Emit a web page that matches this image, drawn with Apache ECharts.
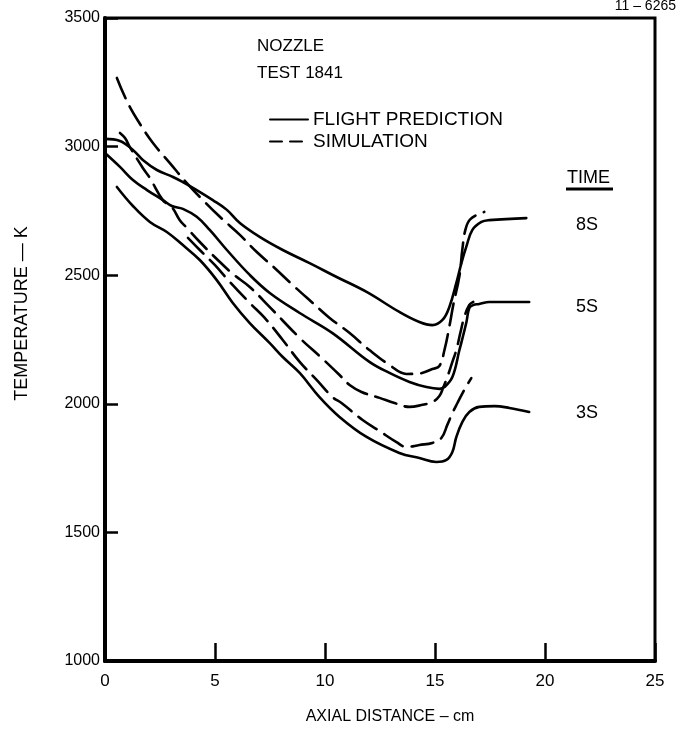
<!DOCTYPE html>
<html><head><meta charset="utf-8">
<script src="https://cdn.jsdelivr.net/npm/echarts/dist/echarts.min.js"></script>
<style>html,body{margin:0;padding:0;background:#fff}#c{width:677px;height:734px}</style>
</head><body><div id="c"></div>
<script>
// Axis distance (cm) vs temperature (K)
const xTicks = [0, 5, 10, 15, 20, 25];
const yTicks = [1000, 1500, 2000, 2500, 3000, 3500];
const timeLabels = ['8S', '5S', '3S'];

const flight8S = [[0,3030],[0.68,3022],[1.27,2987],[1.72,2948],[2.36,2909],[3.09,2882],[3.54,2862],[4.17,2831],[4.90,2792],[5.54,2754],[6.13,2703],[7.03,2649],[8.08,2598],[9.30,2547],[10.53,2493],[11.89,2435],[13.38,2357],[14.29,2318],[14.88,2306],[15.34,2326],[15.65,2376],[15.97,2470],[16.20,2547],[16.42,2610],[16.70,2676],[17.11,2707],[17.47,2714],[19.15,2722]];
const sim8S = [[0.54,3267],[1.04,3169],[1.59,3088],[2.18,3014],[2.95,2936],[3.72,2858],[4.45,2792],[5.22,2727],[6.13,2657],[6.90,2590],[7.71,2528],[8.53,2462],[9.39,2396],[10.21,2334],[11.12,2275],[12.02,2209],[12.93,2151],[13.70,2116],[14.29,2118],[14.88,2135],[15.20,2147],[15.43,2209],[15.65,2299],[15.83,2384],[16.11,2497],[16.24,2598],[16.38,2676],[16.61,2718],[17.24,2746]];
const flight5S = [[0,2975],[0.68,2921],[1.27,2870],[1.91,2831],[2.63,2792],[3.04,2769],[3.54,2758],[4.17,2727],[4.76,2676],[5.54,2598],[6.58,2501],[7.49,2431],[8.85,2353],[10.34,2275],[12.02,2163],[12.93,2120],[13.84,2085],[14.61,2065],[15.20,2058],[15.43,2065],[15.79,2104],[16.11,2209],[16.42,2314],[16.56,2372],[16.74,2384],[17.01,2388],[17.47,2396],[19.28,2396]];
const sim5S = [[0.68,3053],[0.91,3033],[1.13,2998],[1.72,2917],[2.04,2878],[2.63,2792],[3.04,2765],[3.40,2714],[3.72,2684],[4.31,2629],[5.08,2563],[5.81,2505],[6.58,2454],[7.49,2376],[8.85,2256],[9.85,2178],[10.66,2112],[11.12,2073],[11.66,2046],[12.48,2023],[13.16,2003],[13.84,1988],[14.38,1995],[14.88,2007],[15.20,2030],[15.38,2065],[15.56,2104],[15.79,2163],[15.97,2209],[16.15,2275],[16.33,2337],[16.56,2384],[16.74,2396]];
const flight3S = [[0.54,2843],[1.27,2769],[2.04,2707],[2.81,2668],[3.54,2617],[4.31,2559],[5.08,2481],[5.81,2392],[6.58,2314],[7.49,2236],[8.08,2182],[8.85,2120],[9.75,2026],[10.66,1949],[11.89,1871],[13.38,1809],[14.29,1789],[15.06,1774],[15.52,1782],[15.79,1813],[15.97,1871],[16.24,1929],[16.56,1968],[17.01,1988],[17.70,1991],[18.38,1984],[19.28,1968]];
const sim3S = [[3.77,2645],[4.31,2598],[4.99,2540],[5.67,2474],[6.58,2392],[7.26,2334],[8.08,2248],[8.85,2163],[9.62,2093],[10.34,2026],[10.75,2003],[11.71,1937],[12.48,1894],[13.25,1851],[13.70,1832],[14.29,1840],[14.88,1848],[15.29,1867],[15.56,1918],[15.79,1964],[16.02,2003],[16.33,2054],[16.65,2100]];

const FONT = '"Liberation Sans", Arial, sans-serif';
const INK = '#000';
const DASH = [22, 9];

function mk(name, data, dashed) {
  return {
    name: name, type: 'line', data: data, symbol: 'none', showSymbol: false, smooth: 0.4,
    animation: false, silent: true,
    lineStyle: { color: INK, width: 2.6, type: dashed ? DASH : 'solid', cap: 'round', join: 'round' },
    itemStyle: { color: INK }
  };
}

const chart = echarts.init(document.getElementById('c'), null, { renderer: 'canvas' });
chart.setOption({
  backgroundColor: '#fff',
  animation: false,
  title: {
    text: 'NOZZLE\nTEST 1841', left: 252, top: 28,
    textStyle: { fontFamily: FONT, fontSize: 17, fontWeight: 'normal', color: INK, lineHeight: 27 }
  },
  legend: {
    orient: 'vertical', left: 264, top: 105, itemWidth: 38, itemHeight: 12, itemGap: 3,
    itemStyle: { opacity: 0 },
    textStyle: { fontFamily: FONT, fontSize: 19, color: INK },
    data: [
      { name: 'FLIGHT PREDICTION' },
      { name: 'SIMULATION', lineStyle: { type: [12, 8] } }
    ]
  },
  grid: { left: 105, right: 22, top: 18, bottom: 73, show: true, borderColor: INK, borderWidth: 3 },
  xAxis: {
    type: 'value', min: xTicks[0], max: xTicks[xTicks.length - 1], interval: 5,
    axisLine: { show: true, lineStyle: { color: INK, width: 4 } },
    axisTick: { show: true, inside: true, length: 18, lineStyle: { color: INK, width: 2.5 } },
    axisLabel: { color: INK, fontSize: 17, fontFamily: FONT, margin: 12 },
    splitLine: { show: false },
    name: 'AXIAL DISTANCE – cm', nameLocation: 'middle', nameGap: 48,
    nameTextStyle: { fontFamily: FONT, fontSize: 16, color: INK, padding: [0, 0, 0, 20] }
  },
  yAxis: {
    type: 'value', min: yTicks[0], max: yTicks[yTicks.length - 1], interval: 500,
    axisLine: { show: true, lineStyle: { color: INK, width: 4 } },
    axisTick: { show: true, inside: true, length: 13, lineStyle: { color: INK, width: 2.5 } },
    axisLabel: { color: INK, fontSize: 16, fontFamily: FONT, margin: 5, formatter: function (v) { return String(v); } },
    splitLine: { show: false },
    name: 'TEMPERATURE — K', nameLocation: 'middle', nameGap: 74,
    nameTextStyle: { fontFamily: FONT, fontSize: 18, color: INK, padding: [0, 0, 0, 52] }
  },
  series: [
    mk('FLIGHT PREDICTION', flight8S, false),
    mk('SIMULATION', sim8S, true),
    mk('FLIGHT PREDICTION', flight5S, false),
    mk('SIMULATION', sim5S, true),
    mk('FLIGHT PREDICTION', flight3S, false),
    mk('SIMULATION', sim3S, true)
  ],
  graphic: [
    { type: 'text', right: 1, top: -1, style: { text: '11 – 6265', fontFamily: FONT, fontSize: 14, fill: INK } },
    { type: 'text', left: 567, top: 169, style: { text: 'TIME', fontFamily: FONT, fontSize: 18, fill: INK } },
    { type: 'line', shape: { x1: 566, y1: 189, x2: 613, y2: 189 }, style: { stroke: INK, lineWidth: 3 } },
    { type: 'text', left: 576, top: 216, style: { text: timeLabels[0], fontFamily: FONT, fontSize: 18, fill: INK } },
    { type: 'text', left: 576, top: 298, style: { text: timeLabels[1], fontFamily: FONT, fontSize: 18, fill: INK } },
    { type: 'text', left: 576, top: 404, style: { text: timeLabels[2], fontFamily: FONT, fontSize: 18, fill: INK } }
  ]
});
</script></body></html>
